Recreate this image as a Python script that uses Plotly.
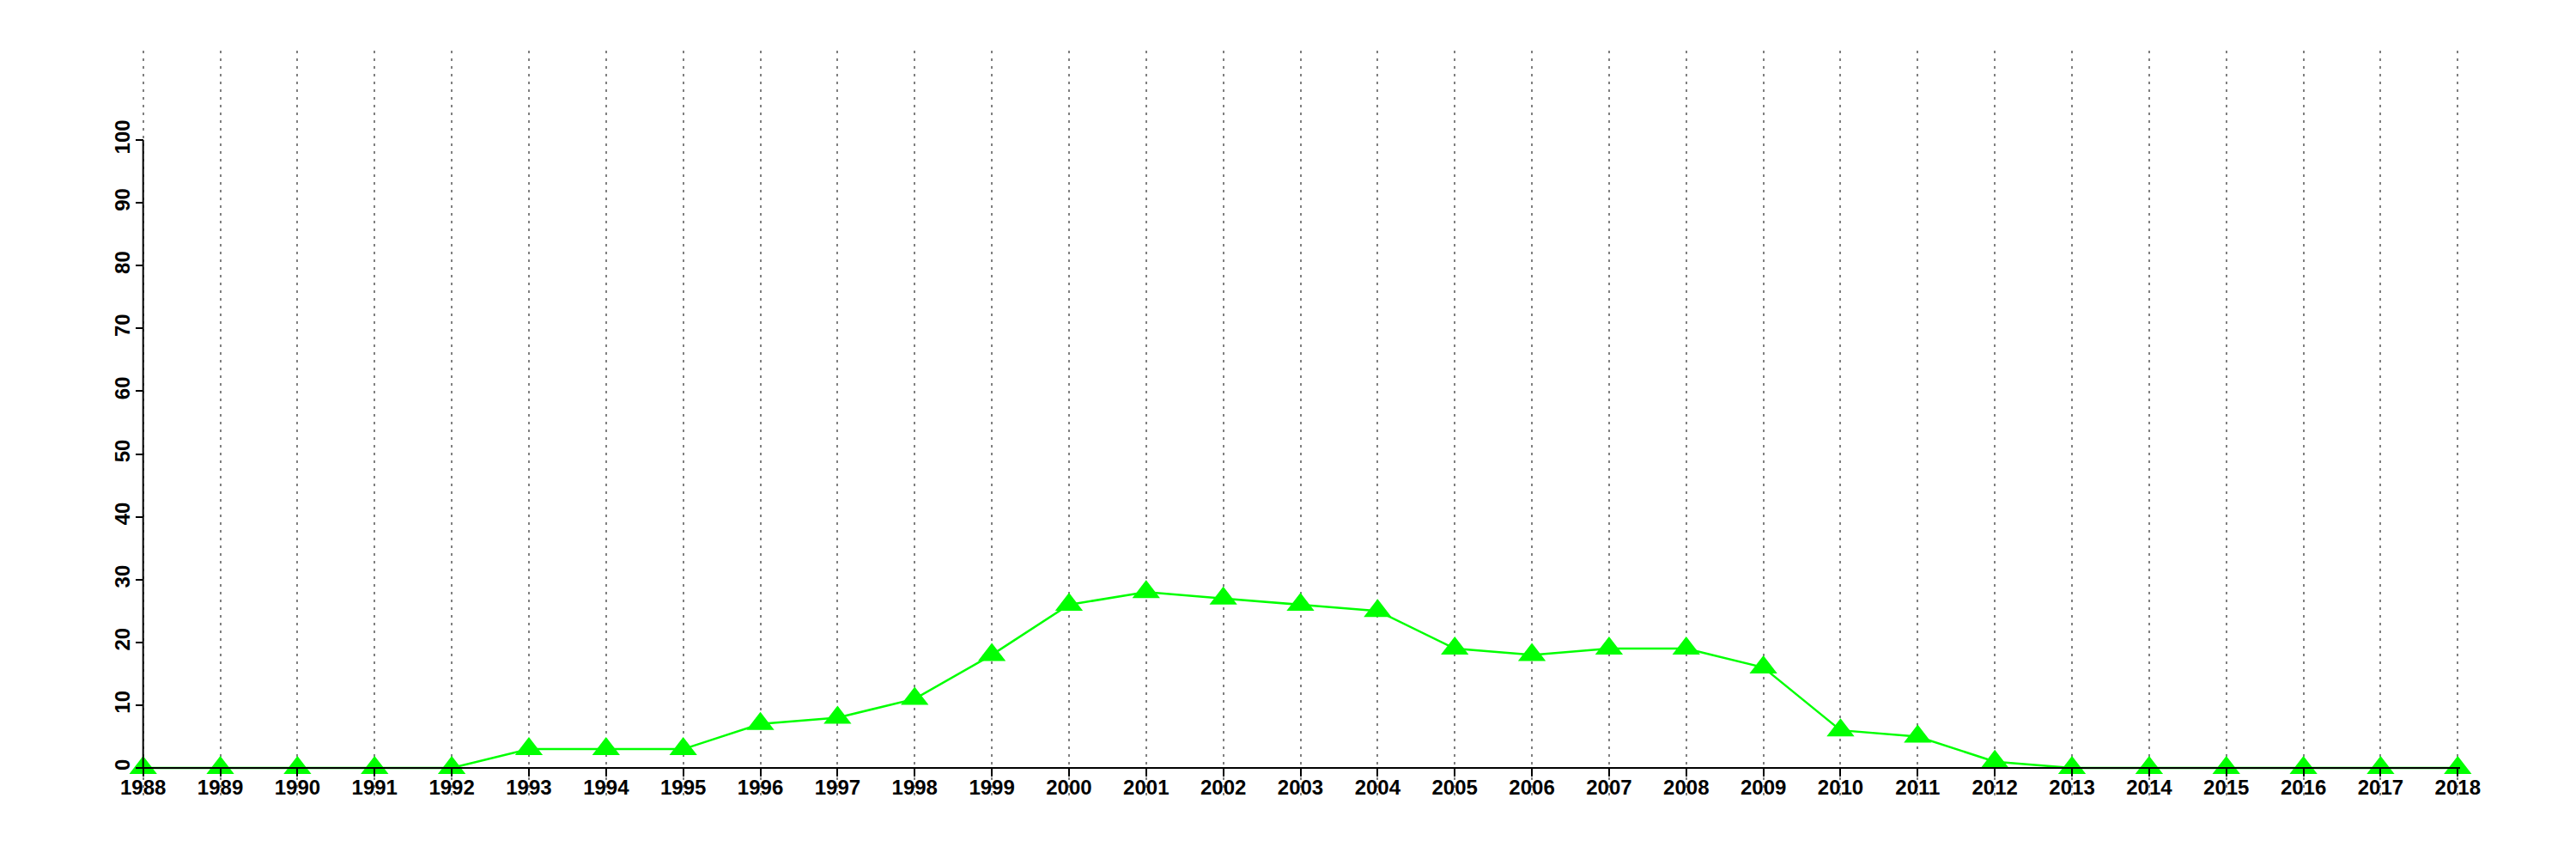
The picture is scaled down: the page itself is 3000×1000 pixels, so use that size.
import plotly.graph_objects as go

years = list(range(1988, 2019))
values = [0, 0, 0, 0, 0, 3, 3, 3, 7, 8, 11, 18, 26, 28, 27, 26, 25, 19, 18, 19, 19, 16, 6, 5, 1, 0, 0, 0, 0, 0, 0]
y_ticks = list(range(0, 101, 10))

# plot geometry (target pixels in the screenshot)
W, H = 3000, 1000
body = 8  # default page body margin offsets the figure
x1988_px, x2018_px = 167, 2862
top_px, bottom_px = 59, 927
y0_px, y100_px = 894, 163
ppy = (x2018_px - x1988_px) / (years[-1] - years[0])
eps = 0.03  # padding so plotly keeps the edge grid lines
left_px = x1988_px - eps * ppy
right_px = x2018_px + eps * ppy
ppu = (y0_px - y100_px) / 100.0
y_min = -(bottom_px - y0_px) / ppu
y_max = (y0_px - top_px) / ppu
x_pos = (0 - y_min) / (y_max - y_min)
y_pos = eps / ((years[-1] + eps) - (years[0] - eps))

font = dict(family="Liberation Sans, Arial, sans-serif", size=24, color="black", weight="bold")

fig = go.Figure()
fig.add_trace(go.Scatter(
    x=years, y=values, mode="lines+markers",
    line=dict(color="#00FF00", width=2.5),
    marker=dict(symbol="triangle-up", size=28, color="#00FF00"),
    cliponaxis=False, showlegend=False,
))

# y-axis line from first to last tick
fig.add_shape(type="line", xref="x", yref="y",
              x0=years[0], x1=years[0], y0=y_ticks[0], y1=y_ticks[-1],
              line=dict(color="black", width=2))

fig.update_layout(
    width=W, height=H,
    margin=dict(l=left_px - body, r=W - right_px + body, t=top_px - body,
                b=H - bottom_px + body, pad=0),
    paper_bgcolor="white", plot_bgcolor="white",
    font=font,
    xaxis=dict(
        range=[years[0] - eps, years[-1] + eps],
        tickvals=years, ticktext=[str(y) for y in years],
        showgrid=True, gridcolor="#808080", gridwidth=2, griddash="3px,6px",
        zeroline=False,
        showline=True, linecolor="black", linewidth=2,
        ticks="outside", ticklen=9, tickwidth=2, tickcolor="black",
        anchor="free", position=x_pos,
        tickfont=font, tickangle=0, ticklabelstandoff=-8,
    ),
    yaxis=dict(
        range=[y_min, y_max],
        tickvals=y_ticks, ticktext=[str(v) for v in y_ticks],
        showgrid=False, zeroline=False, showline=False,
        ticks="outside", ticklen=9, tickwidth=2, tickcolor="black",
        anchor="free", position=y_pos,
        tickangle=-90, tickfont=font, ticklabelstandoff=-3,
    ),
)

fig.write_html("out.html")
